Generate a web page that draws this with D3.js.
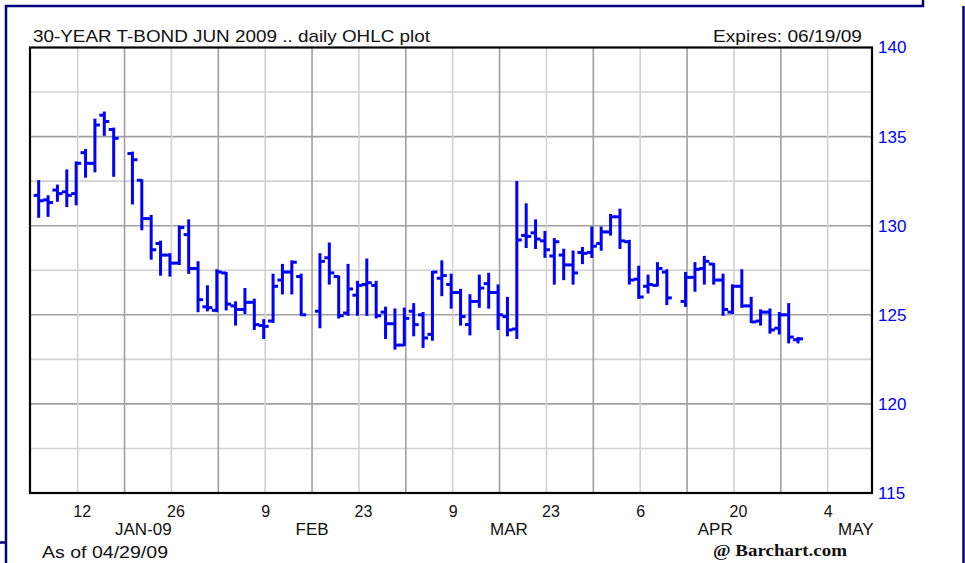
<!DOCTYPE html>
<html>
<head>
<meta charset="utf-8">
<script src="https://cdn.jsdelivr.net/npm/d3@7"></script>
<style>
  body { margin: 0; background: #fff; }
  svg text { font-family: "Liberation Sans", Arial, sans-serif; }
</style>
</head>
<body>
<div id="chart"></div>
<script>
// daily bars, Jan 6 - Apr 29 2009
var dates = ["2009-01-06","2009-01-07","2009-01-08","2009-01-09","2009-01-12","2009-01-13","2009-01-14","2009-01-15","2009-01-16",
  "2009-01-20","2009-01-21","2009-01-22","2009-01-23","2009-01-26","2009-01-27","2009-01-28","2009-01-29","2009-01-30",
  "2009-02-02","2009-02-03","2009-02-04","2009-02-05","2009-02-06","2009-02-09","2009-02-10","2009-02-11","2009-02-12","2009-02-13",
  "2009-02-17","2009-02-18","2009-02-19","2009-02-20","2009-02-23","2009-02-24","2009-02-25","2009-02-26","2009-02-27",
  "2009-03-02","2009-03-03","2009-03-04","2009-03-05","2009-03-06","2009-03-09","2009-03-10","2009-03-11","2009-03-12","2009-03-13",
  "2009-03-16","2009-03-17","2009-03-18","2009-03-19","2009-03-20","2009-03-23","2009-03-24","2009-03-25","2009-03-26","2009-03-27",
  "2009-03-30","2009-03-31","2009-04-01","2009-04-02","2009-04-03","2009-04-06","2009-04-07","2009-04-08","2009-04-09",
  "2009-04-13","2009-04-14","2009-04-15","2009-04-16","2009-04-17","2009-04-20","2009-04-21","2009-04-22","2009-04-23","2009-04-24",
  "2009-04-27","2009-04-28","2009-04-29"];

var opens = [131.7,131.45,132.0,131.9,131.8,134.1,133.5,136.2,135.4,
  134.05,132.55,130.4,129.0,128.35,127.9,129.5,127.6,125.45,
  125.25,127.35,125.5,125.3,125.7,124.4,124.65,126.95,127.4,127.15,
  125.2,128.2,127.15,125.1,126.1,126.7,126.65,125.15,124.5,
  123.3,125.2,125.0,123.9,127.05,126.7,126.25,124.45,125.75,126.75,
  126.25,124.9,124.2,129.45,129.6,129.15,128.3,128.35,127.8,128.5,
  128.5,129.0,129.65,130.5,129.1,127.0,126.6,126.65,127.4,
  125.75,127.1,127.6,127.85,126.95,125.15,126.6,125.5,124.65,125.15,
  124.25,125.0,123.6];

var highs = [132.5,131.65,132.25,133.1,133.55,134.25,135.95,136.35,135.45,
  134.1,132.55,130.55,129.1,128.4,129.95,130.3,127.95,126.6,
  127.5,127.35,125.7,126.45,125.85,124.7,127.25,127.8,128.0,127.25,
  128.4,129.0,127.15,127.8,126.85,128.1,126.85,125.4,125.3,
  125.35,125.6,125.1,127.4,128.0,127.25,126.4,126.1,127.2,127.3,
  126.65,125.95,132.45,131.2,130.3,129.65,129.25,128.65,128.55,128.75,
  129.9,129.9,130.6,130.9,129.15,127.7,127.2,127.9,127.5,
  127.35,127.9,128.25,127.85,127.25,126.65,127.5,125.95,125.25,125.3,
  125.1,125.6,123.7];

var lows = [130.5,130.55,131.4,131.1,131.2,132.75,133.05,135.1,132.8,
  131.25,129.8,128.15,127.25,127.2,127.85,127.35,125.2,125.25,
  125.2,125.3,124.45,125.1,124.2,123.7,124.6,126.2,126.2,125.0,
  124.3,126.75,124.85,125.0,125.0,125.0,124.85,123.7,123.1,
  123.3,123.85,123.2,123.6,126.1,125.4,124.45,123.9,125.45,125.4,
  124.2,123.85,123.7,128.8,128.75,128.25,126.75,127.0,126.75,127.9,
  128.25,128.65,129.5,128.75,126.75,125.95,126.25,126.65,125.6,
  125.5,126.35,126.75,126.75,125.0,125.1,125.45,124.6,124.45,124.0,
  123.95,123.45,123.45];

var closes = [131.4,131.3,131.8,131.7,133.5,133.5,135.65,135.85,134.9,
  133.7,130.4,128.65,128.35,127.9,129.9,127.6,125.85,125.4,
  127.4,125.6,125.3,125.7,124.45,124.35,126.6,127.4,127.95,125.0,
  128.0,127.35,124.95,126.45,126.65,126.8,124.95,124.5,123.3,
  124.8,124.45,123.7,127.4,127.2,126.25,124.9,125.75,126.5,126.25,
  125.0,124.15,129.2,129.4,129.25,128.65,129.1,127.8,127.35,128.45,
  128.85,129.65,130.5,129.15,126.95,126.0,126.7,127.6,125.95,
  127.1,127.55,128.0,126.95,125.3,126.6,125.5,124.6,125.15,124.15,
  125.0,123.75,123.65];

var yTicks = [115, 120, 125, 130, 135, 140];
var xTickDates = ["2009-01-12","2009-01-26","2009-02-09","2009-02-23","2009-03-09","2009-03-23","2009-04-06","2009-04-20","2009-05-04"];
var xTickLabels = ["12","26","9","23","9","23","6","20","4"];
var monthLabels = ["JAN-09","FEB","MAR","APR","MAY"];
var monthDates = ["2009-01-21","2009-02-16","2009-03-17","2009-04-16","2009-05-07"];

var W = 965, H = 563;
var plotL = 30, plotR = 872, plotT = 47.5, plotB = 493;
var blue = "#0000ff", navy = "#000080";

var parse = d3.timeParse("%Y-%m-%d");
var t0 = new Date(2009, 0, 5);
// position on a weekday axis (weekends left out)
function wd(s) {
  var days = Math.round((parse(s) - t0) / 864e5);
  return Math.floor(days / 7) * 5 + (days % 7);
}

var bars = dates.map(function(d, i) {
  return {i: wd(d), o: opens[i], h: highs[i], l: lows[i], c: closes[i]};
});

var x = d3.scaleLinear().domain([0, 85]).range([30.8, 827.7]);
var y = d3.scaleLinear().domain([115, 140]).range([plotB, plotT]);

var svg = d3.select("#chart").append("svg")
  .attr("width", W).attr("height", H);

svg.append("rect").attr("width", W).attr("height", H).attr("fill", "#fff");

// outer frame (navy)
svg.append("path")
  .attr("d", "M6,563 L6,6 L923,6 L923,0 M963.5,6 L963.5,563 M0,542.5 L6,542.5")
  .attr("fill", "none").attr("stroke", navy).attr("stroke-width", 2.5);

// grid
var hVals = d3.range(117.5, 140, 2.5);
svg.append("g").selectAll("line").data(hVals).join("line")
  .attr("x1", plotL).attr("x2", plotR)
  .attr("y1", d => y(d)).attr("y2", d => y(d))
  .attr("stroke", d => d % 5 === 0 ? "#a0a0a0" : "#d2d2d2")
  .attr("stroke-width", 1.6);

var vIdx = d3.range(5, 90, 5);
svg.append("g").selectAll("line").data(vIdx).join("line")
  .attr("x1", d => x(d)).attr("x2", d => x(d))
  .attr("y1", plotT).attr("y2", plotB)
  .attr("stroke", d => d % 10 === 0 ? "#a0a0a0" : "#d2d2d2")
  .attr("stroke-width", 1.6);

// OHLC bars
var g = svg.append("g").attr("stroke", blue).attr("stroke-width", 3);
var bx = d => x(d.i) - 1.5;
g.selectAll(".hl").data(bars).join("line").attr("class", "hl")
  .attr("x1", bx).attr("x2", bx)
  .attr("y1", d => y(d.h) - 1).attr("y2", d => y(d.l) + 1);
g.selectAll(".op").data(bars).join("line").attr("class", "op")
  .attr("x1", d => bx(d) - 5).attr("x2", bx)
  .attr("y1", d => y(d.o)).attr("y2", d => y(d.o));
g.selectAll(".cl").data(bars).join("line").attr("class", "cl")
  .attr("x1", bx).attr("x2", d => bx(d) + 5)
  .attr("y1", d => y(d.c)).attr("y2", d => y(d.c));

// plot border
svg.append("rect")
  .attr("x", plotL).attr("y", plotT)
  .attr("width", plotR - plotL).attr("height", plotB - plotT)
  .attr("fill", "none").attr("stroke", "#000").attr("stroke-width", 2.2);

// y axis on the right
var yAxis = svg.append("g")
  .attr("transform", "translate(" + plotR + ",0)")
  .call(d3.axisRight(y).tickValues(yTicks).tickSize(0).tickPadding(6));
yAxis.select(".domain").remove();
yAxis.selectAll("text").attr("fill", blue).attr("font-size", 17)
  .attr("font-family", "Liberation Sans, Arial, sans-serif");

// x axis
var xAxis = svg.append("g")
  .attr("transform", "translate(0," + plotB + ")")
  .call(d3.axisBottom(x).tickValues(xTickDates.map(wd)).tickSize(0).tickPadding(13)
    .tickFormat((d, i) => xTickLabels[i]));
xAxis.select(".domain").remove();
xAxis.selectAll("text").attr("fill", "#111").attr("font-size", 16)
  .attr("font-family", "Liberation Sans, Arial, sans-serif")
  .attr("dx", (d, i) => xTickLabels[i].length > 1 ? 4 : 0);

svg.append("g").selectAll("text").data(monthLabels).join("text")
  .attr("x", (d, i) => x(wd(monthDates[i])))
  .attr("y", 535)
  .attr("text-anchor", "middle")
  .attr("font-size", 17).attr("fill", "#111")
  .text(d => d);

// titles
svg.append("text").attr("x", 33).attr("y", 42)
  .attr("font-size", 17).attr("fill", "#111")
  .attr("textLength", 397).attr("lengthAdjust", "spacingAndGlyphs")
  .text("30-YEAR T-BOND JUN 2009 .. daily OHLC plot");

svg.append("text").attr("x", 713).attr("y", 42)
  .attr("font-size", 17).attr("fill", "#111")
  .attr("textLength", 149).attr("lengthAdjust", "spacingAndGlyphs")
  .text("Expires: 06/19/09");

svg.append("text").attr("x", 42).attr("y", 557.5)
  .attr("font-size", 17).attr("fill", "#111")
  .attr("textLength", 126).attr("lengthAdjust", "spacingAndGlyphs")
  .text("As of 04/29/09");

svg.append("text").attr("x", 713).attr("y", 556)
  .attr("font-size", 16).attr("font-weight", "bold").attr("fill", "#111")
  .style("font-family", "Liberation Serif, 'DejaVu Serif', serif")
  .attr("textLength", 134).attr("lengthAdjust", "spacingAndGlyphs")
  .text("@ Barchart.com");
</script>
</body>
</html>
